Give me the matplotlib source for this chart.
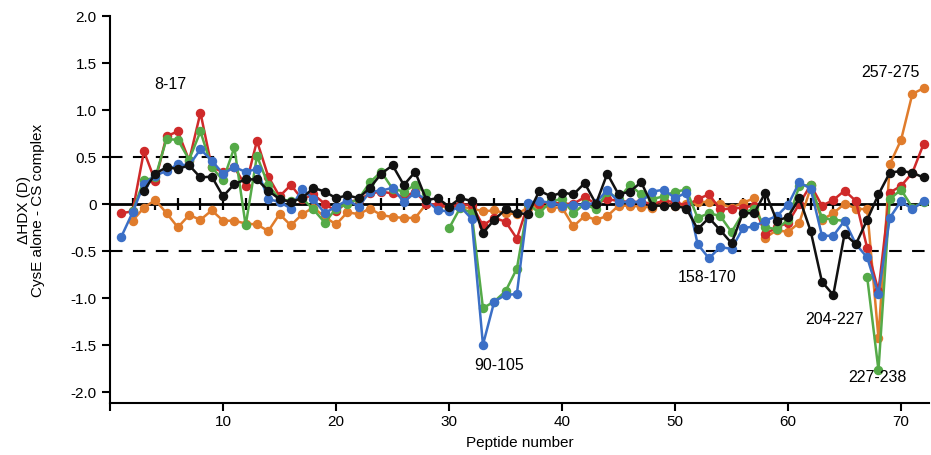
import numpy as np
import matplotlib
matplotlib.use('Agg')
import matplotlib.pyplot as plt

plt.rcParams['font.family'] = ['Liberation Sans', 'DejaVu Sans']

nan = np.nan

# ------ Data ------
peptide = np.arange(1, 73)

red = [-0.10, -0.08, 0.56, 0.24, 0.72, 0.77, 0.46, 0.97, 0.39, 0.34,
       0.39, 0.19, 0.67, 0.29, 0.08, 0.20, 0.05, 0.10, 0.00, -0.08,
       0.02, 0.04, 0.11, 0.13, 0.11, 0.07, 0.13, 0.00, -0.01, -0.03,
       -0.01, -0.01, -0.23, -0.15, -0.19, -0.37, 0.00, 0.00, 0.02, 0.00,
       0.00, 0.07, 0.00, 0.05, 0.03, 0.02, 0.02, 0.00, 0.03, 0.02,
       -0.02, 0.05, 0.10, -0.06, -0.05, -0.04, -0.02, -0.32, -0.25, -0.20,
       0.00, 0.20, -0.02, 0.04, 0.14, 0.03, -0.47, -0.93, 0.12, 0.19,
       0.33, 0.64]

green = [nan, -0.08, 0.25, 0.28, 0.69, 0.68, 0.47, 0.77, 0.39, 0.25,
         0.60, -0.23, 0.51, 0.20, 0.05, 0.03, 0.06, -0.06, -0.20, -0.05,
         0.00, 0.05, 0.23, 0.34, 0.16, 0.13, 0.20, 0.11, nan, -0.26,
         -0.04, -0.10, -1.11, -1.04, -0.93, -0.69, 0.00, -0.10, 0.03, 0.05,
         -0.10, 0.00, -0.06, 0.13, 0.05, 0.20, 0.10, 0.05, 0.08, 0.13,
         0.15, -0.15, -0.10, -0.13, -0.30, -0.10, -0.05, -0.25, -0.27, -0.17,
         0.19, 0.20, -0.15, -0.17, -0.18, nan, -0.78, -1.77, 0.05, 0.15,
         -0.04, 0.02]

blue = [-0.35, -0.09, 0.21, 0.30, 0.35, 0.42, 0.41, 0.58, 0.46, 0.32,
        0.39, 0.34, 0.37, 0.05, 0.02, -0.05, 0.16, 0.05, -0.10, -0.03,
        0.04, -0.03, 0.13, 0.14, 0.17, 0.02, 0.12, 0.04, -0.07, -0.08,
        -0.03, -0.16, -1.50, -1.04, -0.97, -0.96, 0.01, 0.03, 0.01, -0.02,
        -0.01, -0.01, 0.01, 0.15, 0.02, 0.02, 0.02, 0.13, 0.15, 0.06,
        0.12, -0.43, -0.58, -0.46, -0.48, -0.26, -0.24, -0.18, -0.13, -0.01,
        0.23, 0.16, -0.34, -0.34, -0.18, -0.43, -0.57, -0.96, -0.15, 0.03,
        -0.06, 0.03]

orange = [nan, -0.18, -0.04, 0.04, -0.10, -0.25, -0.12, -0.17, -0.07, -0.18,
          -0.18, -0.21, -0.22, -0.29, -0.11, -0.23, -0.11, -0.04, -0.14, -0.22,
          -0.09, -0.11, -0.05, -0.12, -0.14, -0.15, -0.15, 0.00, -0.01, -0.05,
          -0.03, -0.05, -0.08, -0.07, -0.10, -0.11, -0.04, -0.02, -0.04, -0.04,
          -0.24, -0.13, -0.17, -0.13, -0.02, -0.02, -0.03, -0.04, 0.00, -0.02,
          0.00, 0.02, 0.02, 0.00, -0.04, 0.01, 0.06, -0.36, -0.28, -0.30,
          -0.20, 0.17, -0.17, -0.10, 0.00, -0.05, -0.06, -1.43, 0.42, 0.68,
          1.17, 1.23]

black = [nan, nan, 0.14, 0.32, 0.39, 0.37, 0.41, 0.28, 0.29, 0.08,
         0.21, 0.26, 0.26, 0.14, 0.05, 0.02, 0.06, 0.17, 0.13, 0.06,
         0.09, 0.06, 0.17, 0.32, 0.41, 0.20, 0.34, 0.04, 0.06, -0.03,
         0.06, 0.03, -0.31, -0.17, -0.06, -0.10, -0.11, 0.14, 0.08, 0.12,
         0.10, 0.22, 0.00, 0.32, 0.10, 0.13, 0.23, -0.02, -0.02, -0.02,
         -0.05, -0.27, -0.15, -0.28, -0.42, -0.10, -0.10, 0.12, -0.18, -0.14,
         0.06, -0.29, -0.83, -0.97, -0.32, -0.43, -0.17, 0.10, 0.33, 0.35,
         0.33, 0.28]

labels = ['8-17', '90-105', '158-170', '204-227', '227-238', '257-275']
label_x = [5.3, 34.4, 52.8, 64.1, 67.9, 69.1]
label_y = [1.28, -1.71, -0.77, -1.22, -1.84, 1.41]

yticks = [-2.0, -1.5, -1.0, -0.5, 0, 0.5, 1.0, 1.5, 2.0]
ytick_labels = ['-2.0', '-1.5', '-1.0', '-0.5', '0', '0.5', '1.0', '1.5', '2.0']
xticks = [0, 10, 20, 30, 40, 50, 60, 70]
xtick_labels = ['', '10', '20', '30', '40', '50', '60', '70']

# ------ Figure ------
fig = plt.figure(figsize=(9.31, 4.56), dpi=100)
ax = fig.add_axes([0.1182, 0.114, 0.880, 0.849])

# reference lines
ax.axhline(0.5, color='black', lw=1.5, ls=(0, (6, 5)), zorder=1)
ax.axhline(-0.5, color='black', lw=1.5, ls=(0, (6, 5)), zorder=1)
ax.axhline(0, color='black', lw=2, zorder=1)
ev = np.arange(2, 72, 2)
ax.plot(ev, np.zeros(len(ev)), ls='none', marker='|', ms=8, mew=1.6,
        color='black', zorder=1)

series = [(orange, '#e07c2c'), (red, '#cf2a2a'), (green, '#55aa48'),
          (blue, '#3b6fc6'), (black, '#111111')]
for i, (vals, col) in enumerate(series):
    ax.plot(peptide, vals, color=col, lw=1.8, marker='o', ms=5.8,
            zorder=2 + i)

for t, x, y in zip(labels, label_x, label_y):
    ax.text(x, y, t, ha='center', va='center', fontsize=11.5, zorder=10)

ax.set_xlim(0, 72.5)
ax.set_ylim(-2.12, 2.0)
ax.set_yticks(yticks)
ax.set_yticklabels(ytick_labels, fontsize=11)
ax.set_xticks(xticks)
ax.set_xticklabels(xtick_labels, fontsize=11)
ax.tick_params(axis='both', direction='out', length=6, width=1.5)
ax.tick_params(axis='x', pad=2)

for s in ['top', 'right']:
    ax.spines[s].set_visible(False)
for s in ['left', 'bottom']:
    ax.spines[s].set_linewidth(1.5)

ax.set_xlabel('Peptide number', fontsize=11, labelpad=5)
ax.set_ylabel('\u0394HDX (D)\nCysE alone - CS complex', fontsize=11,
              linespacing=1.0)
ax.yaxis.set_label_coords(-0.079, 0.5)

plt.savefig('out.png', dpi=100)
